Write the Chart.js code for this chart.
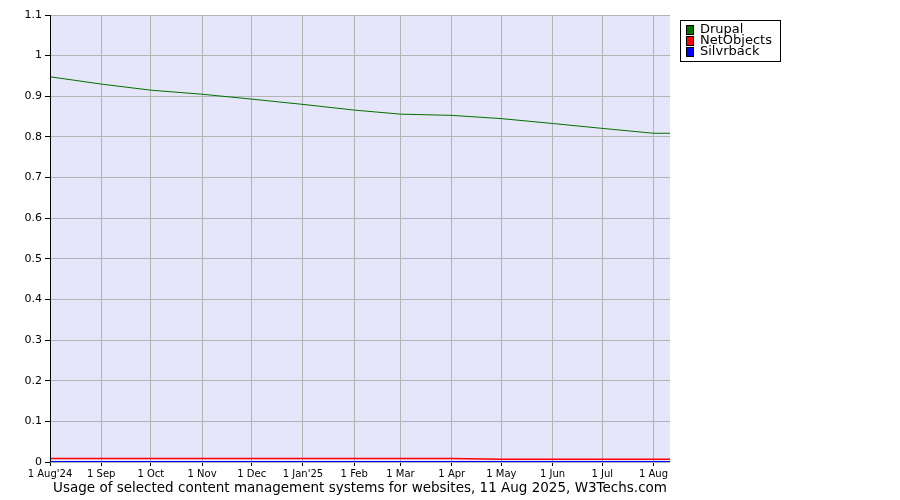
<!DOCTYPE html><html><head><script src="https://cdn.jsdelivr.net/npm/chart.js@4"></script>
<style>body{margin:0;background:#fff}#w{width:900px;height:500px}</style></head><body><div id="w"><canvas id="c"></canvas></div>
<script>
const tickDays=[0,31,61,92,122,153,184,212,243,273,304,334,365];
const tickLabels=["1 Aug'24","1 Sep","1 Oct","1 Nov","1 Dec","1 Jan'25","1 Feb","1 Mar","1 Apr","1 May","1 Jun","1 Jul","1 Aug"];
const pointDays=[0,31,61,92,122,153,184,212,243,273,304,334,365,375];
const drupal=[0.948,0.930,0.915,0.905,0.893,0.880,0.866,0.856,0.853,0.845,0.833,0.821,0.809,0.809];
const netobjects=[0.0085,0.0085,0.0085,0.0085,0.0085,0.0085,0.0085,0.0085,0.0085,0.0068,0.0068,0.0068,0.0068,0.0068];
const silvrback=[0,0,0,0,0,0,0,0,0,0,0,0,0,0];
const names=["Drupal","NetObjects","Silvrback"];
const colors=["#007000","#ff0000","#0000ff"];
const yTicks=[0,0.1,0.2,0.3,0.4,0.5,0.6,0.7,0.8,0.9,1,1.1];
const F="DejaVu Sans";
const mk=(a)=>a.map((v,i)=>({x:pointDays[i],y:v}));
const plug={id:'p',beforeDraw(c){const a=c.chartArea,x=c.ctx;x.save();x.fillStyle='#e6e6fa';x.fillRect(a.left,a.top,a.right-a.left,a.bottom-a.top);x.restore();},
afterDraw(c){const x=c.ctx,a=c.chartArea;x.save();x.strokeStyle='#000';x.lineWidth=1;x.beginPath();x.moveTo(a.left+0.5,a.top);x.lineTo(a.left+0.5,a.bottom+0.5);x.stroke();
x.fillStyle='#fff';x.fillRect(680.5,20.5,100,41);x.strokeRect(680.5,20.5,100,41);
x.font='13px '+F;x.textBaseline='middle';
names.forEach((n,i)=>{const y=30+i*11;x.fillStyle=colors[i];x.fillRect(686,y-5,8,10);x.strokeStyle='#000';x.strokeRect(686.5,y-4.5,7,9);x.fillStyle='#000';x.fillText(n,700,y);});
x.font='13.5px '+F;x.textAlign='center';x.fillText('Usage of selected content management systems for websites, 11 Aug 2025, W3Techs.com',360,488);x.restore();}};
new Chart(document.getElementById('c'),{type:'line',data:{datasets:[
{label:names[0],data:mk(drupal),borderColor:colors[0],borderWidth:1,pointRadius:0,tension:0},
{label:names[1],data:mk(netobjects),borderColor:colors[1],borderWidth:1.5,pointRadius:0,tension:0},
{label:names[2],data:mk(silvrback),borderColor:colors[2],borderWidth:2,pointRadius:0,tension:0}]},
options:{responsive:true,maintainAspectRatio:false,animation:false,layout:{padding:{top:15,right:230,left:0,bottom:0}},
plugins:{legend:{display:false},tooltip:{enabled:false}},
scales:{x:{type:'linear',min:0,max:375,afterBuildTicks(s){s.ticks=tickDays.map(v=>({value:v}));},afterFit(s){s.height=38;},
ticks:{autoSkip:false,maxRotation:0,color:'#000',font:{family:F,size:10},padding:2,callback:(v)=>tickLabels[tickDays.indexOf(v)]},grid:{color:'#b4b4b4',tickLength:4,tickColor:'#000'},border:{display:false}},
y:{min:0,max:1.1,afterBuildTicks(s){s.ticks=yTicks.map(v=>({value:v}));},afterFit(s){s.width=50;},
ticks:{color:'#000',font:{family:F,size:11},padding:3,callback:(v)=>String(Math.round(v*10)/10)},grid:{color:'#b4b4b4',tickLength:5,tickColor:'#000'},border:{display:false}}}},plugins:[plug]});
</script></body></html>
